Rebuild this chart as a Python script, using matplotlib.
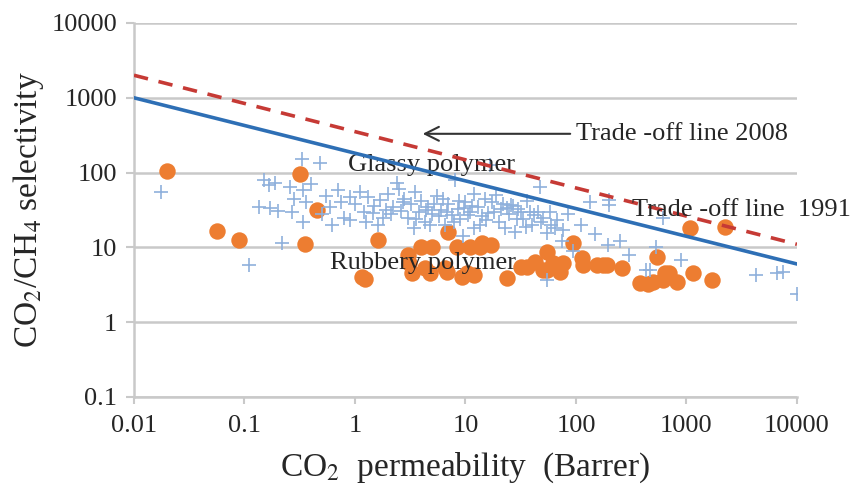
import matplotlib
matplotlib.use("Agg")
import matplotlib.pyplot as plt

# --- Data ---
# Glassy polymers (blue plus markers): CO2 permeability (Barrer), CO2/CH4 selectivity
glassy_perm = [0.0175, 0.11, 0.135, 0.15, 0.165, 0.17, 0.19, 0.2, 0.22, 0.26,
               0.27, 0.28, 0.33, 0.34, 0.34, 0.36, 0.4, 0.48, 0.5, 0.55,
               0.6, 0.7, 0.75, 0.8, 0.9, 0.9, 1.0, 1.1, 1.2, 1.3,
               1.45, 1.5, 1.7, 1.8, 2.0, 2.2, 2.4, 2.6, 2.8, 3.0,
               3.2, 3.5, 3.8, 4.0, 4.3, 4.6, 5.0, 5.5, 6.0, 6.5,
               7.0, 7.5, 8.0, 8.5, 9.0, 10, 11, 12, 13, 14,
               15, 16.7, 18, 20, 22, 25, 28, 30, 33, 36,
               40, 45, 47, 50, 55, 55, 60, 68, 75, 76,
               85, 95, 110, 135, 150, 195, 200, 200, 250, 300,
               430, 470, 530, 610, 900, 4300, 6600, 7500, 10000,
               2.5, 6.2, 12, 24, 0.62, 1.6, 3.4, 9.5, 19, 38,
               2.1, 2.7, 3.6, 4.4, 5.2, 5.8, 6.8, 7.8, 8.8, 10.5,
               11.5, 13.5, 16, 17.5, 21, 23, 26, 29, 32, 35,
               42, 48, 58, 65, 1.25, 1.9, 4.8, 9.8, 15.5, 27]
glassy_sel = [55, 5.8, 35, 80, 68, 34, 73, 31, 11.5, 64,
              30, 45, 150, 58, 22, 40, 70, 135, 28, 48,
              35, 58, 40, 25, 47, 23, 38, 55, 30, 47,
              29, 36, 43, 25, 52, 35, 73, 31, 45, 25,
              38, 55, 30, 42, 22, 35, 28, 48, 32, 20,
              38, 27, 80, 33, 24, 40, 30, 18, 35, 26,
              45, 125, 30, 22, 38, 28, 16, 33, 24, 42,
              20, 30, 64, 25, 15.5, 3.7, 20, 23, 12, 17,
              28, 9, 20, 40, 15, 10.8, 37, 43, 12, 8,
              5, 5, 10, 25, 6.8, 4.3, 4.5, 4.7, 2.4,
              60, 45, 52, 34, 20, 20, 18, 14, 50, 30,
              28, 40, 24, 32, 38, 26, 30, 22, 42, 27,
              36, 20, 29, 40, 33, 18, 37, 24, 30, 19,
              27, 22, 30, 18, 22, 32, 20, 34, 23, 36]

# Rubbery polymers (orange dots)
rubbery_perm = [0.02, 0.057, 0.09, 0.32, 0.45, 0.35, 1.6, 1.15, 1.22, 3.0,
                4.0, 5.0, 3.3, 4.8, 7.0, 8.4, 6.8, 9.3, 12, 13.5,
                17, 24, 36, 55, 55, 76, 94, 113, 175, 260,
                380, 450, 540, 610, 700, 820, 1150, 1700, 1080, 2230,
                3.1, 4.3, 6.5, 10.3, 32, 43, 14, 11, 62, 50,
                72, 115, 155, 190, 500, 640]
rubbery_sel = [105, 16.5, 12.5, 95, 32, 11, 12.5, 4.0, 3.8, 8,
               10, 10, 4.5, 4.5, 16, 10, 4.7, 4.0, 4.3, 10,
               10.8, 3.9, 5.5, 8.7, 5.0, 6.2, 11.5, 7.2, 5.8, 5.3,
               3.3, 3.2, 7.4, 3.7, 4.5, 3.4, 4.5, 3.7, 18, 18.5,
               6.2, 5.3, 5.3, 4.5, 5.5, 6.4, 11.5, 10, 6.2, 5.0,
               4.7, 5.8, 5.8, 5.8, 3.4, 4.5]

# Upper bound (trade-off) lines, end points
bound_perm = [0.01, 10000]
bound_1991 = [1000, 6]
bound_2008 = [2000, 11]

# --- Styling ---
SERIF = ["Liberation Serif", "DejaVu Serif"]
GRID_GRAY = "#c9c9c9"
TEXT = "#262626"
plt.rcParams["mathtext.fontset"] = "stix"

fig = plt.figure(figsize=(8.55, 4.88), dpi=100)
ax = fig.add_axes([0.1567, 0.1865, 0.7754, 0.7664])

ax.scatter(rubbery_perm, rubbery_sel, s=140, color="#ed7d31", linewidths=0, zorder=3)
ax.scatter(glassy_perm, glassy_sel, s=100, marker="+", color="#8fb0dc",
           linewidths=1.2, zorder=4)

ax.plot(bound_perm, bound_1991, color="#2e6fb5", lw=2.6, zorder=5)
ax.plot(bound_perm, bound_2008, color="#c63a35", lw=2.6, ls=(0, (4, 3)), zorder=5)

ax.set_xscale("log")
ax.set_yscale("log")
ax.set_xlim(0.01, 10000)
ax.set_ylim(0.1, 10000)

xticks = [0.01, 0.1, 1, 10, 100, 1000, 10000]
xtick_labels = ["0.01", "0.1", "1", "10", "100", "1000", "10000"]
yticks = [0.1, 1, 10, 100, 1000, 10000]
ytick_labels = ["0.1", "1", "10", "100", "1000", "10000"]
ax.set_xticks(xticks)
ax.set_xticklabels(xtick_labels)
ax.set_yticks(yticks)
ax.set_yticklabels(ytick_labels)
ax.minorticks_off()

ax.grid(axis="y", color=GRID_GRAY, lw=1.8, zorder=0)
ax.set_axisbelow(True)
for side in ["top", "right"]:
    ax.spines[side].set_visible(False)
for side in ["left", "bottom"]:
    ax.spines[side].set_color(GRID_GRAY)
    ax.spines[side].set_linewidth(1.8)

ax.tick_params(axis="x", length=5, width=1.5, color=GRID_GRAY, pad=8,
               labelsize=19, labelcolor=TEXT)
ax.tick_params(axis="y", length=6, width=1.5, color=GRID_GRAY, pad=6,
               labelsize=19, labelcolor=TEXT)
for lab in ax.get_xticklabels() + ax.get_yticklabels():
    lab.set_family(SERIF)

ax.set_xlabel(r"CO$_2$  permeability  (Barrer)", fontsize=24, family=SERIF,
              color=TEXT, labelpad=10)
ax.set_ylabel(r"CO$_2$/CH$_4$ selectivity", fontsize=24, family=SERIF,
              color=TEXT, labelpad=4)

ax.text(0.865, 126, "Glassy polymer", fontsize=19, family=SERIF, color=TEXT,
        va="center", ha="left", zorder=4.5)
ax.text(0.59, 6.2, "Rubbery polymer", fontsize=19, family=SERIF, color=TEXT,
        va="center", ha="left", zorder=6)
ax.text(100, 330, "Trade -off line 2008", fontsize=19, family=SERIF, color=TEXT,
        va="center", ha="left", zorder=6)
ax.text(321, 31.6, "Trade -off line  1991", fontsize=19, family=SERIF, color=TEXT,
        va="center", ha="left", zorder=6)
ax.annotate("", xy=(3.87, 330), xytext=(94, 330),
            arrowprops=dict(arrowstyle="->", color="#333333", lw=1.5,
                            mutation_scale=25))

fig.savefig("out.png", dpi=100)
